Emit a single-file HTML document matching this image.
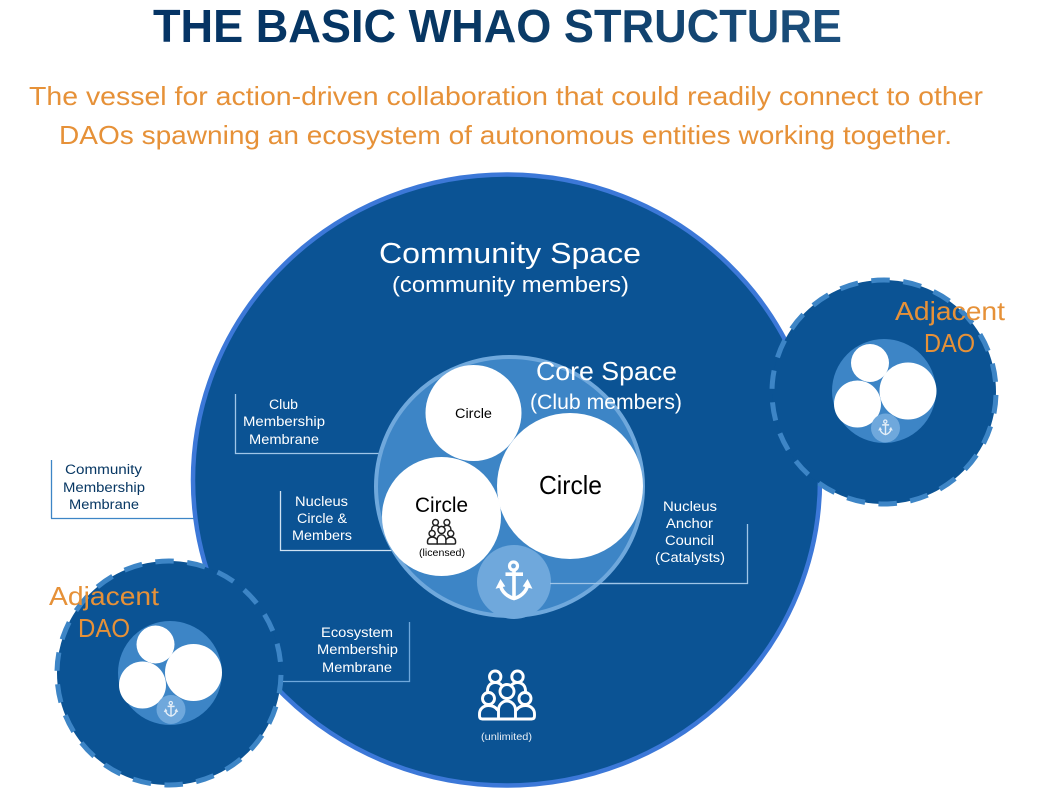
<!DOCTYPE html>
<html><head><meta charset="utf-8"><title>The Basic WHAO Structure</title>
<style>
html,body{margin:0;padding:0;background:#fff;width:1040px;height:808px;overflow:hidden}
svg{display:block}
text{font-family:"Liberation Sans",sans-serif;text-anchor:middle}
.o{fill:#e69138}
.w{fill:#fff}
.k{fill:#000}
.l{fill:#fff;font-size:13.5px}
.d{fill:#073763;font-size:13.5px}
</style></head><body>
<svg xmlns="http://www.w3.org/2000/svg" width="1040" height="808" viewBox="0 0 1040 808">
<defs>
<linearGradient id="tg" x1="153" x2="842" y1="0" y2="0" gradientUnits="userSpaceOnUse">
<stop offset="0" stop-color="#053465"/><stop offset=".45" stop-color="#073763"/><stop offset="1" stop-color="#1c4f7c"/>
</linearGradient>
<g id="people" fill="none" stroke-width="2.900" stroke-linejoin="round" stroke-linecap="round">
<circle cx="16.700" cy="6.700" r="5.700"/><circle cx="39" cy="6.700" r="5.700"/>
<path d="M9 21c0-5 3-8.500 7.700-8.500 3 0 5.300 1 6.800 3.500M47 21c0-5-3-8.500-8-8.500-3 0-5 1-6.500 3.500"/>
<circle cx="28.500" cy="21.500" r="7"/><circle cx="10" cy="28.500" r="6"/><circle cx="46.500" cy="28.500" r="6"/>
<path d="M20 49V40c0-5 4-9 8.500-9s8.500 4 8.500 9v9z"/>
<path d="M20 49H4c-2 0-3-1-3-3v-2c0-5 4-8.500 9-8.500 4 0 7 1.500 9 4.500M37 49h16c2 0 3-1 3-3v-2c0-5-4-8.500-9-8.500-4 0-7 1.500-9 4.500"/>
</g>
<g id="anchor" fill="none" stroke-width="3.600">
<circle cx="-.5" cy="-16" r="4" stroke-width="3.200"/>
<path d="M-8.500-7.800H9M0-12V17.500"/>
<path d="M-13.500 3C-12.500 10-6 15 0 16.500 6 15 12.500 10 13.500 3"/>
<path d="M-17.500 6-13.500-2-9.500 4zM17.500 6 13.500-2 9.500 4z" fill="currentColor" stroke-width="1"/>
</g>
</defs>

<text x="497.500" y="42" font-size="46" font-weight="700" fill="url(#tg)" textLength="689" lengthAdjust="spacingAndGlyphs">THE BASIC WHAO STRUCTURE</text>
<text class="o" x="506" y="105" font-size="26" textLength="954" lengthAdjust="spacingAndGlyphs">The vessel for action-driven collaboration that could readily connect to other</text>
<text class="o" x="505.500" y="144" font-size="26" textLength="893" lengthAdjust="spacingAndGlyphs">DAOs spawning an ecosystem of autonomous entities working together.</text>

<ellipse cx="506.500" cy="480" rx="313.500" ry="305.500" fill="#0b5394" stroke="#3c78d8" stroke-width="4.500"/>

<line x1="51.500" y1="460" x2="51.500" y2="518.500" stroke="#3d85c6" stroke-width="1.300"/>
<line x1="51" y1="518.500" x2="194" y2="518.500" stroke="#3d85c6" stroke-width="1.300"/>

<!-- Left DAO -->
<circle cx="169" cy="673" r="112" fill="#0b5394"/>
<circle cx="169" cy="673" r="112" fill="none" stroke="#3d85c6" stroke-width="5" stroke-dasharray="18.500 13.490" stroke-dashoffset="-2"/>
<!-- Right DAO -->
<circle cx="884" cy="392" r="112" fill="#0b5394"/>
<circle cx="884" cy="392" r="112" fill="none" stroke="#3d85c6" stroke-width="5" stroke-dasharray="18.500 13.490" stroke-dashoffset="-3"/>

<!-- connector lines -->
<g fill="none" stroke="#9fc5e8" stroke-width="1.300">
<path d="M235.500 394V453.500H385"/>
<path d="M280.500 491V550.500H395" stroke="#cfe2f3"/>
<path d="M283 681.500H409.500V622" stroke="#6fa8dc"/>
<path d="M550 583.500H747.500V524"/>
</g>

<!-- Core -->
<ellipse cx="509.500" cy="486.500" rx="133.500" ry="129.500" fill="#3d85c6" stroke="#6fa8dc" stroke-width="4"/>
<circle cx="514" cy="582" r="37" fill="#6fa8dc"/>
<path d="M550 583.500H640" stroke="#9fc5e8" stroke-width="1.300"/>
<circle cx="473.500" cy="413" r="48" fill="#fff"/>
<circle cx="570" cy="486" r="73" fill="#fff"/>
<circle cx="441.500" cy="516.500" r="59.500" fill="#fff"/>
<use href="#anchor" x="514" y="582" stroke="#fff" color="#fff"/>
<use href="#people" transform="translate(427 519) scale(.51)" stroke="#222"/>

<!-- right inner -->
<circle cx="884" cy="391" r="52" fill="#3d85c6"/>
<circle cx="870" cy="363" r="19" fill="#fff"/>
<circle cx="908" cy="391" r="28.500" fill="#fff"/>
<circle cx="857.500" cy="404" r="23.500" fill="#fff"/>
<circle cx="885.500" cy="428" r="14.500" fill="#6fa8dc"/>
<use href="#anchor" transform="translate(885.500 428) scale(.4)" stroke="#e3eef8" color="#e3eef8"/>

<!-- left inner -->
<circle cx="170" cy="673" r="52" fill="#3d85c6"/>
<circle cx="155.500" cy="644.500" r="19" fill="#fff"/>
<circle cx="193.500" cy="672.500" r="28.500" fill="#fff"/>
<circle cx="142.500" cy="685" r="23.500" fill="#fff"/>
<circle cx="171" cy="709.500" r="14.500" fill="#6fa8dc"/>
<use href="#anchor" transform="translate(171 709.500) scale(.4)" stroke="#e3eef8" color="#e3eef8"/>

<use href="#people" transform="translate(478.500 670)" stroke="#fff"/>
<text class="w" x="506.500" y="740" font-size="10" textLength="51" lengthAdjust="spacingAndGlyphs" fill-opacity=".9">(unlimited)</text>

<text class="w" x="510" y="263" font-size="29" textLength="262" lengthAdjust="spacingAndGlyphs">Community Space</text>
<text class="w" x="510.500" y="292" font-size="22" textLength="237" lengthAdjust="spacingAndGlyphs">(community members)</text>
<text class="w" x="606.500" y="380" font-size="26" textLength="141" lengthAdjust="spacingAndGlyphs">Core Space</text>
<text class="w" x="606" y="409" font-size="21" textLength="152" lengthAdjust="spacingAndGlyphs">(Club members)</text>

<text class="k" x="473.500" y="418" font-size="13.500" textLength="37" lengthAdjust="spacingAndGlyphs">Circle</text>
<text class="k" x="570.500" y="494" font-size="26" textLength="63" lengthAdjust="spacingAndGlyphs">Circle</text>
<text class="k" x="441.500" y="512" font-size="21" textLength="53" lengthAdjust="spacingAndGlyphs">Circle</text>
<text class="k" x="442" y="556" font-size="10" textLength="46" lengthAdjust="spacingAndGlyphs">(licensed)</text>

<text class="o" x="950" y="320" font-size="26" textLength="110" lengthAdjust="spacingAndGlyphs">Adjacent</text>
<text class="o" x="949.500" y="352" font-size="26" textLength="51" lengthAdjust="spacingAndGlyphs">DAO</text>
<text class="o" x="104" y="605" font-size="26" textLength="110" lengthAdjust="spacingAndGlyphs">Adjacent</text>
<text class="o" x="104" y="637" font-size="26" textLength="52" lengthAdjust="spacingAndGlyphs">DAO</text>

<text class="d" x="103.500" y="474" textLength="77" lengthAdjust="spacingAndGlyphs">Community</text>
<text class="d" x="104" y="492" textLength="82" lengthAdjust="spacingAndGlyphs">Membership</text>
<text class="d" x="104" y="509" textLength="70" lengthAdjust="spacingAndGlyphs">Membrane</text>

<text class="l" x="283.500" y="409" textLength="29" lengthAdjust="spacingAndGlyphs">Club</text>
<text class="l" x="284" y="426" textLength="82" lengthAdjust="spacingAndGlyphs">Membership</text>
<text class="l" x="284" y="444" textLength="70" lengthAdjust="spacingAndGlyphs">Membrane</text>

<text class="l" x="321.500" y="506" textLength="53" lengthAdjust="spacingAndGlyphs">Nucleus</text>
<text class="l" x="322" y="523" textLength="50" lengthAdjust="spacingAndGlyphs">Circle &amp;</text>
<text class="l" x="322" y="540" textLength="60" lengthAdjust="spacingAndGlyphs">Members</text>

<text class="l" x="690" y="511" textLength="54" lengthAdjust="spacingAndGlyphs">Nucleus</text>
<text class="l" x="689.500" y="528" textLength="47" lengthAdjust="spacingAndGlyphs">Anchor</text>
<text class="l" x="689.500" y="545" textLength="49" lengthAdjust="spacingAndGlyphs">Council</text>
<text class="l" x="690" y="562" textLength="70" lengthAdjust="spacingAndGlyphs">(Catalysts)</text>

<text class="l" x="357" y="637" textLength="72" lengthAdjust="spacingAndGlyphs">Ecosystem</text>
<text class="l" x="357.500" y="654" textLength="81" lengthAdjust="spacingAndGlyphs">Membership</text>
<text class="l" x="357" y="672" textLength="70" lengthAdjust="spacingAndGlyphs">Membrane</text>
</svg>
</body></html>
